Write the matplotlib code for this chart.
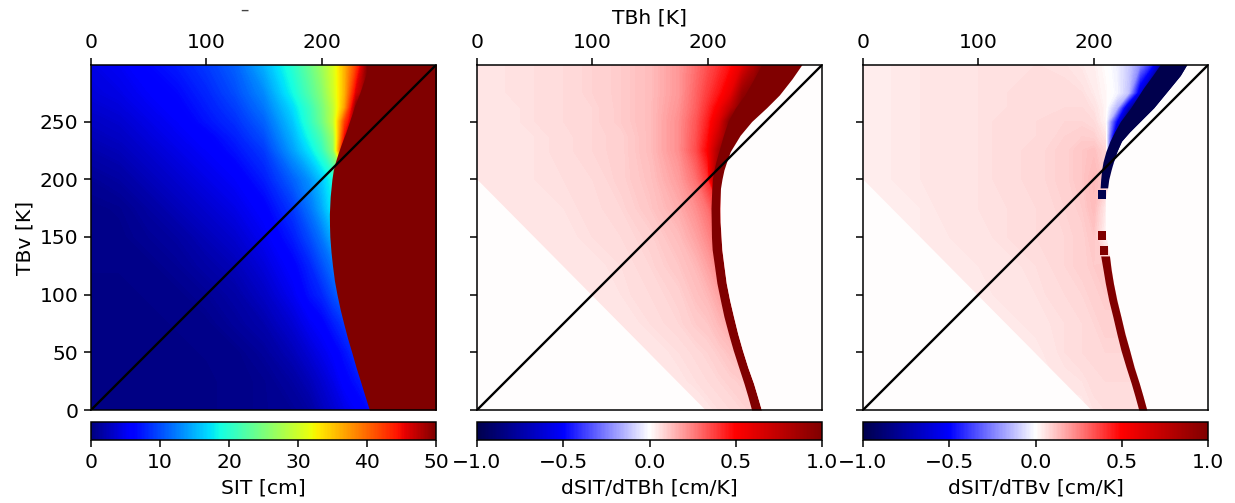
import matplotlib
matplotlib.use("Agg")
import matplotlib.pyplot as plt
import numpy as np
from matplotlib import cm
from matplotlib.colors import Normalize

W, H = 1235, 503

# grid, rows from TBv=300 down to 0
tbv_rows = [300, 275, 262, 250, 237, 225, 200, 175, 150, 125, 100, 75, 50, 25, 0]
tbh_cols = [0, 25, 50, 75, 100, 125, 150, 175, 190, 200, 210, 220, 230, 240, 250, 265, 285, 300]

sit = [
    [4.5, 5.2, 6.5, 7.5, 9, 11, 15, 20, 24, 27, 30.5, 36, 42, 50, 50, 50, 50, 50],
    [4, 4.5, 5.5, 6.5, 8, 10, 13, 18.5, 22.5, 25.5, 30, 36, 46, 50, 50, 50, 50, 50],
    [3.5, 4, 5, 6, 7.5, 9.2, 12, 17, 21, 24.5, 29, 37, 50, 50, 50, 50, 50, 50],
    [3, 3.5, 4.5, 5.5, 7, 8.5, 11, 16, 20.5, 24, 29, 42, 50, 50, 50, 50, 50, 50],
    [2.5, 3, 4, 5, 6, 7.7, 10, 15, 19, 22, 27, 45, 50, 50, 50, 50, 50, 50],
    [2, 2.5, 3.5, 4.5, 5.5, 7, 9, 14, 17.5, 20.5, 26, 50, 50, 50, 50, 50, 50, 50],
    [1, 1.5, 2.5, 3.5, 4.5, 5.5, 7.5, 11, 13.5, 16, 19, 27, 35, 50, 50, 50, 50, 50],
    [.5, .7, 1.5, 2.5, 3.5, 4.5, 6, 9, 12, 14.5, 18, 22, 27, 35, 50, 50, 50, 50],
    [.4, .5, 1, 1.5, 2.5, 3.5, 5, 7.5, 10, 12, 15, 18, 22, 27, 35, 50, 50, 50],
    [.4, .4, .5, 1, 1.7, 2.5, 4, 6, 8, 10, 12, 15, 18, 22, 27, 40, 50, 50],
    [.3, .3, .4, .5, 1, 1.7, 3, 5, 7, 8, 10, 12, 15, 18, 22, 30, 50, 50],
    [.3, .3, .3, .4, .5, 1.2, 2, 3.7, 5.2, 6, 7.5, 9, 11, 14, 17, 24, 40, 50],
    [.3, .3, .3, .3, .4, .5, 1.2, 2.5, 3.8, 4.7, 5.7, 7, 8.5, 10, 13, 18, 30, 50],
    [.3, .3, .3, .3, .3, .5, .7, 1.5, 2.5, 3.5, 4.5, 6, 7, 8, 10, 14, 24, 40],
    [.3, .3, .3, .3, .3, .5, .7, 1, 1.5, 2.5, 3.5, 4.5, 5.5, 6.5, 8, 11, 18, 30],
]

dsit_h = [
    [.05, .055, .06, .07, .085, .1, .13, .2, .28, .34, .4, .47, .6, .8, 1, 1, 1, 1],
    [.05, .055, .06, .07, .085, .1, .13, .2, .3, .38, .46, .58, .9, 1, 1, 1, 1, 1],
    [.05, .05, .06, .07, .08, .1, .13, .21, .31, .41, .53, .75, 1, 1, 1, 1, 1, 1],
    [.05, .05, .06, .07, .08, .1, .13, .22, .33, .44, .62, 1, 1, 1, 1, 1, 1, 1],
    [.05, .05, .055, .065, .08, .09, .13, .22, .34, .47, .72, 1, 1, 1, 1, 1, 1, 1],
    [.05, .05, .055, .065, .08, .09, .13, .22, .35, .5, .85, 1, 1, 1, 1, 1, 1, 1],
    [.045, .05, .055, .06, .07, .09, .12, .19, .28, .4, 1, 1, 1, 1, 1, 1, 1, 1],
    [.04, .045, .05, .055, .065, .08, .11, .16, .22, .28, .4, 1, 1, 1, 1, 1, 1, 1],
    [.04, .04, .045, .05, .06, .07, .09, .13, .18, .23, .3, .3, .3, .3, .3, .3, .3, .3],
    [.04, .04, .04, .045, .05, .06, .08, .11, .14, .18, .24, .24, .24, .24, .24, .24, .24, .24],
    [.04, .04, .04, .04, .045, .055, .07, .09, .12, .14, .18, .18, .18, .18, .18, .18, .18, .18],
    [.04, .04, .04, .04, .04, .045, .06, .08, .1, .11, .14, .17, .17, .17, .17, .17, .17, .17],
    [.04, .04, .04, .04, .04, .04, .045, .06, .075, .085, .1, .12, .14, .14, .14, .14, .14, .14],
    [.04, .04, .04, .04, .04, .04, .04, .05, .06, .07, .08, .09, .1, .11, .11, .11, .11, .11],
    [.04, .04, .04, .04, .04, .04, .04, .04, .04, .05, .06, .07, .08, .09, .09, .09, .09, .09],
]

dsit_v = [
    [.04, .04, .045, .05, .055, .06, .06, .055, .04, .03, .005, -.03, -.1, -.22, -.42, -1, -1, -1],
    [.04, .04, .045, .05, .055, .06, .065, .065, .06, .04, .015, -.02, -.12, -.6, -1, -1, -1, -1],
    [.04, .04, .045, .05, .055, .06, .07, .07, .07, .055, .02, -.15, -.7, -1, -1, -1, -1, -1],
    [.04, .04, .045, .05, .055, .065, .07, .08, .08, .07, .02, -.5, -1, -1, -1, -1, -1, -1],
    [.04, .04, .045, .05, .055, .065, .07, .085, .095, .09, .05, -.8, -1, -1, -1, -1, -1, -1],
    [.04, .04, .045, .05, .055, .065, .075, .09, .11, .12, .08, -1, -1, -1, -1, -1, -1, -1],
    [.035, .04, .045, .05, .055, .065, .075, .09, .11, .14, .1, 0, 0, 0, 0, 0, 0, 0],
    [.035, .035, .04, .05, .055, .06, .07, .085, .1, .13, .04, 0, 0, 0, 0, 0, 0, 0],
    [.035, .035, .04, .045, .05, .06, .07, .08, .09, .11, .02, 0, 0, 0, 0, 0, 0, 0],
    [.035, .035, .035, .04, .045, .05, .06, .08, .09, .1, .11, .11, .11, .11, .11, .11, .11, .11],
    [.035, .035, .035, .035, .04, .05, .055, .07, .08, .09, .1, .1, .1, .1, .1, .1, .1, .1],
    [.035, .035, .035, .035, .035, .04, .05, .06, .07, .08, .09, .09, .09, .09, .09, .09, .09, .09],
    [.035, .035, .035, .035, .035, .035, .04, .06, .07, .075, .08, .08, .08, .08, .08, .08, .08, .08],
    [.035, .035, .035, .035, .035, .035, .035, .05, .055, .065, .07, .07, .07, .07, .07, .07, .07, .07],
    [.035, .035, .035, .035, .035, .035, .035, .035, .035, .055, .06, .065, .065, .065, .065, .065, .065, .065],
]

# edge of the saturated part in the SIT panel
sat_tbv = [0, 12, 25, 37, 50, 62, 75, 87, 100, 112, 125, 137, 150, 160, 170, 185, 200, 208, 215, 222, 230, 240, 250, 262, 275, 287, 300]
sat_tbh = [241.3, 237.5, 233.5, 229.7, 226, 222.4, 219, 216, 213.2, 211, 209.3, 208, 207, 206.7, 206.6, 207.3, 208.8, 210, 211.8,
           214, 216.8, 220.6, 224, 228, 233, 237, 241]

# limit of the non zero part, lower left corner
zero_tbv = [0, 200]
zero_tbh = [198, 0]

# saturated band, dSIT/dTBh
band_h_tbv = [0, 12, 23, 37, 52, 66, 81, 95, 110, 125, 139, 150, 163, 175, 192, 200, 208, 215, 224, 238, 250, 262, 273, 287, 300]
band_h_left = [238, 234.7, 231.4, 226.8, 222, 218, 214, 211, 207.9, 205.8, 203.8, 203.2, 203, 202.8, 203.5, 204, 205.3, 207,
               209.5, 213.5, 217.5, 224, 232, 240, 247]
band_h_right = [246.5, 243, 239.7, 234.7, 230, 226, 222.3, 219, 216, 214, 212.2, 211.5, 210.7, 210.5, 211, 212.3, 214, 216.3,
                219.5, 228, 238, 251, 262, 273, 282]

# saturated pieces, dSIT/dTBv (red part, then blue part, then single squares)
red_tbv = [0, 12, 23, 37, 52, 66, 81, 95, 110, 122, 133.5]
red_left = [239, 235.7, 232.5, 228, 223.5, 220, 216.5, 213, 210, 208, 206]
red_right = [246, 242.7, 239.5, 235, 231, 227, 223.5, 220, 217, 215, 213.6]
blue_tbv = [192.5, 200, 208, 215, 224, 233, 241, 250, 262, 279, 290, 300]
blue_left = [205.5, 206, 206.8, 208, 210.5, 214, 218, 223, 232, 243, 251, 258]
blue_right = [212, 213, 215, 217, 220, 224, 231, 240, 252, 266, 275, 281]
square_tbv = [(134.5, 142.5), (147, 155), (183, 191)]
square_tbh = [(205.5, 212), (204, 211), (204, 211)]
square_val = [1, 1, -1]

# white to the right of the field, dSIT/dTBv
white_v_tbv = [0, 23, 52, 81, 110, 133.5, 155, 183, 192.5, 200, 208, 215, 224, 233, 241, 250, 262, 279, 290, 300]
white_v_tbh = [246, 239.5, 231, 223.5, 217, 213.6, 210, 210, 212, 213, 215, 217, 220, 224, 231, 240, 252, 266, 275, 281]

x_ticks = [0, 100, 200]
y_ticks = [0, 50, 100, 150, 200, 250]
sit_ticks = [0, 10, 20, 30, 40, 50]
d_ticks = [-1.0, -0.5, 0.0, 0.5, 1.0]

plt.rcParams['font.size'] = 14.6
plt.rcParams['axes.linewidth'] = 1.1


def box(x0, y0, x1, y1):
    # pixel box of the reference to figure coordinates
    return [x0 / W, 1 - y1 / H, (x1 - x0) / W, (y1 - y0) / H]


def panel(x0, values, cmap, vmin, vmax, ticks, label):
    ax = fig.add_axes(box(x0, 65, x0 + 345, 410))
    levels = np.linspace(vmin, vmax, 401)
    ax.contourf(tbh_cols, tbv_rows[::-1], np.array(values)[::-1], levels=levels,
                cmap=cmap, extend='both', antialiased=False)
    ax.set_xlim(0, 299)
    ax.set_ylim(0, 299)
    ax.xaxis.tick_top()
    ax.xaxis.set_label_position('top')
    ax.set_xticks(x_ticks)
    ax.set_yticks(y_ticks)
    ax.tick_params(length=5, width=1.1, pad=4)

    cax = fig.add_axes(box(x0, 422, x0 + 345, 440))
    sm = cm.ScalarMappable(norm=Normalize(vmin, vmax), cmap=cmap)
    cb = fig.colorbar(sm, cax=cax, orientation='horizontal')
    cb.set_ticks(ticks)
    cb.ax.tick_params(length=5, width=1.1, pad=4)
    cb.set_label(label, labelpad=5)
    return ax


fig = plt.figure(figsize=(W / 100, H / 100), dpi=100)

seismic = plt.get_cmap('seismic')
blank = seismic(0.5)
dark_red = seismic(1.0)
dark_blue = seismic(0.0)

ax1 = panel(91, sit, 'jet', 0, 50, sit_ticks, 'SIT [cm]')
ax1.fill_betweenx(sat_tbv, sat_tbh, 300, color=plt.get_cmap('jet')(1.0), lw=0)
ax1.set_ylabel('TBv [K]')

ax2 = panel(477, dsit_h, 'seismic', -1, 1, d_ticks, 'dSIT/dTBh [cm/K]')
ax2.set_yticklabels([])
ax2.set_xlabel('TBh [K]', labelpad=7)
ax2.fill_betweenx(zero_tbv, 0, zero_tbh, color=blank, lw=0)
ax2.fill_betweenx(band_h_tbv, band_h_left, band_h_right, color=dark_red, lw=0)
ax2.fill_betweenx(band_h_tbv, band_h_right, 300, color=blank, lw=0)

ax3 = panel(863, dsit_v, 'seismic', -1, 1, d_ticks, 'dSIT/dTBv [cm/K]')
ax3.set_yticklabels([])
ax3.fill_betweenx(zero_tbv, 0, zero_tbh, color=blank, lw=0)
ax3.fill_betweenx(white_v_tbv, white_v_tbh, 300, color=blank, lw=0)
ax3.fill_betweenx(red_tbv, red_left, red_right, color=dark_red, lw=0)
ax3.fill_betweenx(blue_tbv, blue_left, blue_right, color=dark_blue, lw=0)
for tv, th, val in zip(square_tbv, square_tbh, square_val):
    ax3.fill_betweenx(tv, th[0], th[1], color=dark_red if val > 0 else dark_blue, lw=0)

for ax in (ax1, ax2, ax3):
    ax.plot([0, 300], [0, 300], color='k', lw=1.7)

# leftover mark above the first panel
fig.text(244 / W, 1 - 10 / H, '\u2013', fontsize=12, color='#444444', ha='center', va='center')

fig.savefig('out.png', dpi=100)
